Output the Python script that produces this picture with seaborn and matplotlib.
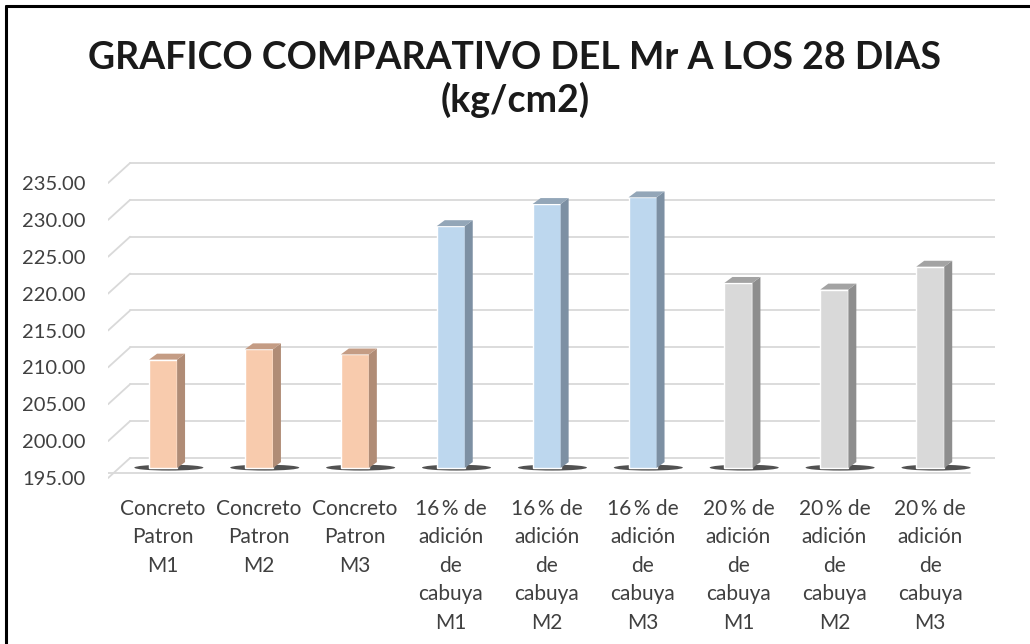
import matplotlib
matplotlib.use("Agg")
import matplotlib.pyplot as plt
from matplotlib.lines import Line2D
from matplotlib.patches import Polygon, Ellipse
import numpy as np
import pandas as pd
import seaborn as sns

categories = [
    "Concreto\nPatron\nM1", "Concreto\nPatron\nM2", "Concreto\nPatron\nM3",
    "16\u2009% de\nadición\nde\ncabuya\nM1", "16\u2009% de\nadición\nde\ncabuya\nM2",
    "16\u2009% de\nadición\nde\ncabuya\nM3",
    "20\u2009% de\nadición\nde\ncabuya\nM1", "20\u2009% de\nadición\nde\ncabuya\nM2",
    "20\u2009% de\nadición\nde\ncabuya\nM3",
]
mr_values = [209.7, 211.1, 210.4, 227.8, 230.8, 231.7, 220.1, 219.2, 222.3]
groups = ["patron"] * 3 + ["16"] * 3 + ["20"] * 3
y_ticks = [195, 200, 205, 210, 215, 220, 225, 230, 235]

FRONT = {"patron": "#F8CBAD", "16": "#BDD7EE", "20": "#D9D9D9"}
SIDE = {"patron": "#B08C76", "16": "#7D90A3", "20": "#8E8E8E"}
TOP = {"patron": "#C49C84", "16": "#93A6B8", "20": "#A3A3A3"}

TEXT = "#404040"
GRID = "#D9D9D9"

sns.set_theme(style="white")
plt.rcParams["font.family"] = ["Lato", "DejaVu Sans"]

df = pd.DataFrame({"cat": categories, "mr": mr_values, "grp": groups})

fig = plt.figure(figsize=(10.3, 6.44), dpi=100)
ax = fig.add_axes([0.1049, 0.2469, 0.8612, 0.5202])

# pseudo-3D: horizontal gridlines sit on the back wall, labels on the front edge
depth = 1.36          # y offset (data units) between front edge and back wall
x_front, x_back = -0.574, -0.344
base = y_ticks[0]

for v in y_ticks:
    ax.plot([x_back, 8.676], [v + depth, v + depth], color=GRID, lw=1.3, zorder=0)
    ax.plot([x_front, x_back], [v - depth, v + depth], color=GRID, lw=1.3, zorder=0)
# floor front edge
ax.plot([x_front, 8.415], [base - 0.7, base - 0.7], color=GRID, lw=1.3, zorder=0)

bw = 0.292
sns.barplot(data=df, x="cat", y="mr", hue="grp", palette=FRONT, dodge=False,
            width=bw, saturation=1, legend=False, ax=ax, zorder=3)
# bars start on the floor (axis does not start at zero)
for p in ax.patches:
    top = p.get_y() + p.get_height()
    p.set_y(base)
    p.set_height(top - base)

dx, dy = 0.083, 0.8
for i, (v, g) in enumerate(zip(mr_values, groups)):
    x0, x1 = i - bw / 2, i + bw / 2
    ax.add_patch(Ellipse((i + 0.06, base + 0.05), 0.72, 0.8, color="#262626",
                         alpha=0.8, lw=0, zorder=2))
    ax.add_patch(Polygon([(x1, base), (x1 + dx, base + dy), (x1 + dx, v + dy), (x1, v)],
                         closed=True, fc=SIDE[g], ec="none", zorder=3))
    ax.add_patch(Polygon([(x0, v), (x0 + dx, v + dy), (x1 + dx, v + dy), (x1, v)],
                         closed=True, fc=TOP[g], ec="none", zorder=3))

ax.set_ylim(192.695, 238.12)
ax.set_xlim(-0.574, 8.676)
ax.set_yticks([v - depth for v in y_ticks])
ax.set_yticklabels([f"{v:.2f}" for v in y_ticks])
ax.tick_params(axis="y", length=0, labelsize=14.5, labelcolor=TEXT, pad=16)
ax.tick_params(axis="x", length=0, labelsize=15, labelcolor=TEXT, pad=10)
ax.set_xlabel("")
ax.set_ylabel("")
for s in ax.spines.values():
    s.set_visible(False)
for lab in ax.get_xticklabels():
    lab.set_linespacing(1.53)

fig.text(0.5, 0.91, "GRAFICO COMPARATIVO DEL Mr A LOS 28 DIAS", ha="center", va="center",
         fontsize=27, fontweight="bold", color="#1a1a1a")
fig.text(0.5, 0.845, "(kg/cm2)", ha="center", va="center",
         fontsize=27, fontweight="bold", color="#1a1a1a")

# outer frame (left and top edges visible in the source)
fig.add_artist(Line2D([0.006, 0.006], [0, 0.991], color="black", lw=2.2))
fig.add_artist(Line2D([0.006, 1.0], [0.991, 0.991], color="black", lw=2.2))

fig.savefig("out.png", dpi=100, facecolor="white")
